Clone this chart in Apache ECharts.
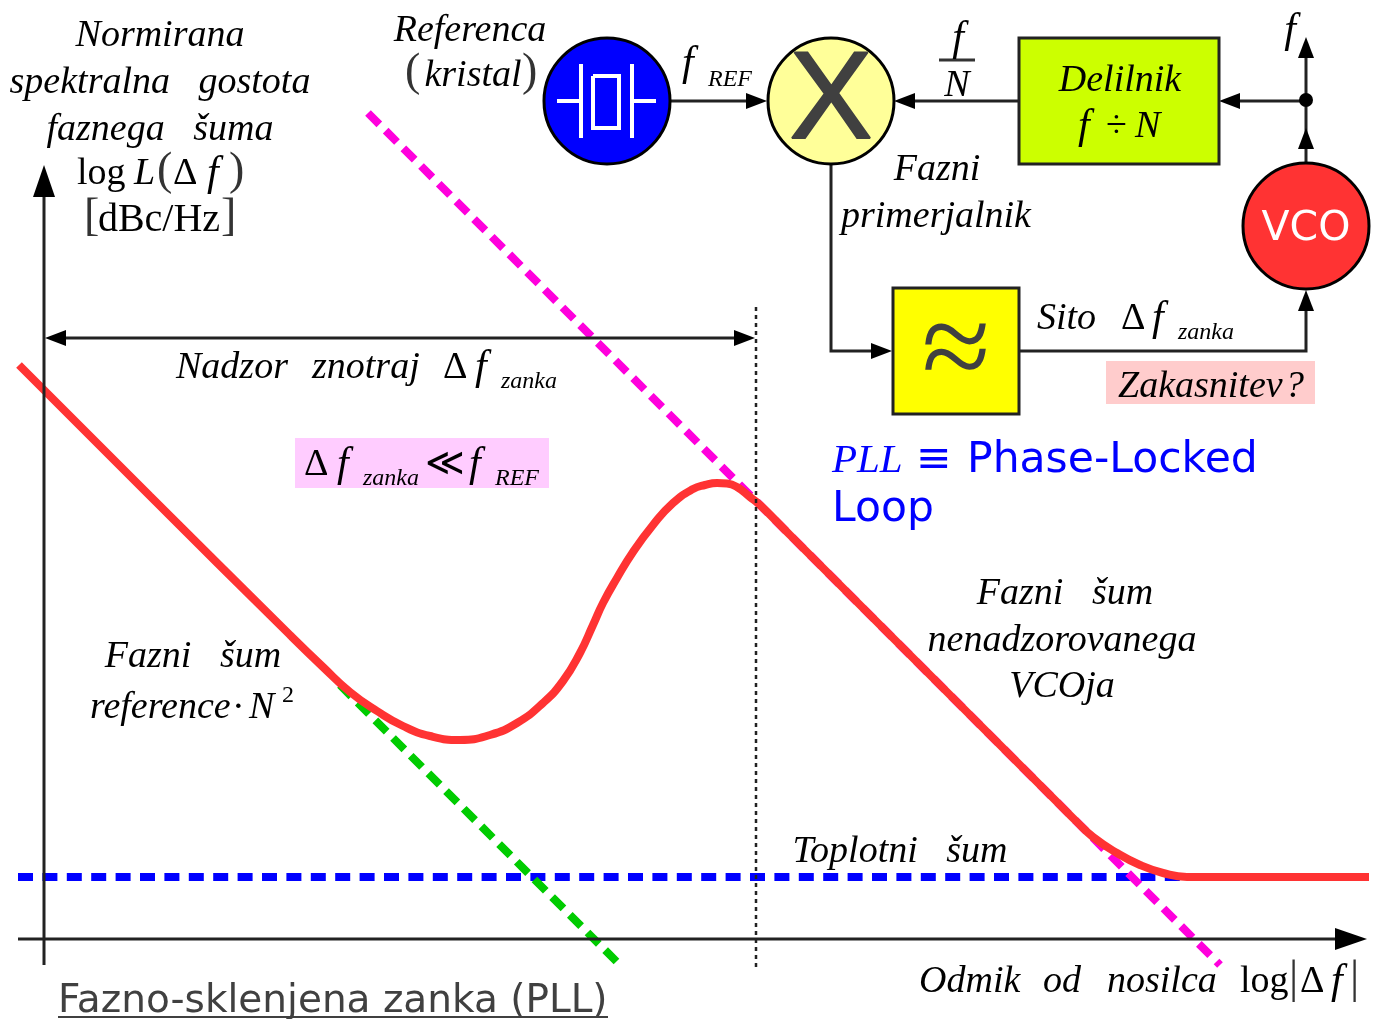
<!DOCTYPE html>
<html>
<head>
<meta charset="utf-8">
<title>PLL</title>
<style>html,body{margin:0;padding:0;background:#fff}#main{width:1380px;height:1019px}</style>
<script src="https://cdn.jsdelivr.net/npm/echarts@6/dist/echarts.min.js"></script>
</head>
<body>
<div id="main"></div>
<script>
// noise curves (x = offset, y = level, both in picture units)
var totalNoise = [[19,365],[150,496],[290,635],[323,667],[350,692],[377,711],[403,726],[430,736],[460,740],[490,735],[517,723],[543,703],[563,681],[580,653],[593,625],[603,603],[617,578],[633,552],[653,525],[673,503],[693,489],[705,485],[717,483],[727,483.5],[737,487],[750,497],[760,505],[790,535],[900,645],[1034,779],[1057,802],[1077,822],[1093,837],[1117,853],[1140,865],[1163,873],[1187,877],[1230,877],[1369,877]];
var vcoNoise = [[368,113],[1220,965]];
var refNoise = [[340,685],[620,965]];
var thermalNoise = [[18,877],[1369,877]];

// diagram nodes and wires
var circleNodes = [[607,101,63],[831,101,63],[1306,226,63]];
var circleFills = ['#0000ff','#ffff99','#ff3333'];
var boxNodes = [[1019,38,1219,164],[893,288,1019,414]];
var boxFills = ['#ccff00','#ffff00'];
var noteBoxes = [[1106,361,1315,404],[295,438,549,488]];
var noteFills = ['#ffcccc','#ffccff'];
var wires = [
    [[669,101],[750,101]],
    [[1019,101],[910,101]],
    [[1306,101],[1235,101]],
    [[1306,163],[1306,50]],
    [[831,164],[831,351],[875,351]],
    [[1019,351],[1306,351],[1306,305]],
    [[50,338],[750,338]],
    [[44,965],[44,190]],
    [[18,939],[1340,939]],
    [[939,60],[975,60]],
    [[58,1017],[608,1017]]
];
var crystalLines = [
    [[557,101],[580,101]],[[581,64],[581,138]],[[632,64],[632,138]],[[633,101],[656,101]],
    [[593,76],[619,76],[619,128],[593,128],[593,76]]
];
var cutoffLine = [[756,307],[756,967]];
var arrowTips = [[767,101,'r'],[894,101,'l'],[1219,101,'l'],[1306,37,'u'],[1306,128,'u'],[892,351,'r'],[1306,290,'u'],[45,338,'l'],[755,338,'r']];
var axisTips = [[44,165,'u'],[1367,939,'r']];
var junctions = [[1306,100]];

// text: [x, y, string, font key, align]
var labels = [
    [160,36,'Normirana','it',  'center'],
    [160,83,'spektralna   gostota','it','center'],
    [160,130,'faznega   šuma','it','center'],
    [77,174,'log','rm','left'],[134,174,'L','it','left'],[157,172,'(','par','left'],[173,174,'Δ','rm','left'],[207,174,'f','itF','left'],[229,172,')','par','left'],
    [84,218,'[','par','left'],[159,220,'dBc/Hz','rmBig','center'],[221,218,']','par','left'],
    [470,31,'Referenca','it','center'],
    [405,73,'(','par','left'],[473,76,'kristal','it','center'],[522,73,')','par','left'],
    [682,64,'f','itF','left'],[708,80,'REF','sub','left'],
    [958,39,'f','itF','center'],[957,86,'N','it','center'],
    [1290,31,'f','itF','center'],
    [1120,81,'Delilnik','it','center'],
    [1078,127,'f','itF','left'],[1106,127,'÷','rm','left'],[1135,127,'N','it','left'],
    [937,170,'Fazni','it','center'],
    [936,217,'primerjalnik','it','center'],
    [1037,319,'Sito','it','left'],[1121,319,'Δ','rm','left'],[1152,319,'f','itF','left'],[1178,333,'zanka','sub','left'],
    [1118,387,'Zakasnitev','it','left'],[1285,387,'?','it','left'],
    [832,461,'PLL','it2','left'],[916,461,'≡','sansBlue','left'],[967,461,'Phase-Locked','sansBlue','left'],
    [832,510,'Loop','sansBlue','left'],
    [176,368,'Nadzor','it','left'],[312,368,'znotraj','it','left'],[443,368,'Δ','rm','left'],[475,368,'f','itF','left'],[501,382,'zanka','sub','left'],
    [304,465,'Δ','rm','left'],[337,465,'f','itF','left'],[363,479,'zanka','sub','left'],[425,465,'≪','rm','left'],[469,465,'f','itF','left'],[495,479,'REF','sub','left'],
    [193,657,'Fazni   šum','it','center'],
    [90,708,'reference','it','left'],[232,708,'·','rm','left'],[249,708,'N','it','left'],[282,696,'2','subRm','left'],
    [1065,594,'Fazni   šum','it','center'],
    [1062,641,'nenadzorovanega','it','center'],
    [1062,687,'VCOja','it','center'],
    [900,852,'Toplotni   šum','it','center'],
    [919,982,'Odmik','it','left'],[1043,982,'od','it','left'],[1107,982,'nosilca','it','left'],
    [1240,982,'log','rm','left'],[1289,980,'|','par','left'],[1300,982,'Δ','rm','left'],[1331,982,'f','itF','left'],[1350,980,'|','par','left'],
    [58,1002,'Fazno-sklenjena zanka (PLL)','title','left'],
    [1306,229,'VCO','vco','center'],
    [831,103.5,'X','cross','center'],
    [956,355,'≈','approx','center']
];

var fonts = {
    it: {font:'italic 38px "Liberation Serif"', fill:'#000'},
    itF: {font:'italic 42px "Liberation Serif"', fill:'#000'},
    it2: {font:'italic 41px "Liberation Serif"', fill:'#0000ff'},
    rm: {font:'38px "Liberation Serif"', fill:'#000'},
    rmBig: {font:'40px "Liberation Serif"', fill:'#000'},
    par: {font:'300 46px "Liberation Serif"', fill:'#333'},
    sub: {font:'italic 24px "Liberation Serif"', fill:'#000'},
    subRm: {font:'24px "Liberation Serif"', fill:'#000'},
    sansBlue: {font:'42.5px "DejaVu Sans"', fill:'#0000ff'},
    title: {font:'39px "DejaVu Sans"', fill:'#404040'},
    vco: {font:'41px "DejaVu Sans"', fill:'#fff'},
    cross: {font:'125px "Liberation Sans"', fill:'#404040', stroke:'#404040', lineWidth:2},
    approx: {font:'125px "Liberation Serif"', fill:'#404040'}
};

var myChart = echarts.init(document.getElementById('main'));

function polyChild(api, pts, stroke, width) {
    return {
        type: 'polyline',
        shape: {points: pts.map(function (p) { return api.coord(p); })},
        style: {stroke: stroke, lineWidth: width, fill: null}
    };
}

function rectChild(api, b, fill, stroke) {
    var a = api.coord([b[0], b[1]]), c = api.coord([b[2], b[3]]);
    return {
        type: 'rect',
        shape: {x: a[0], y: a[1], width: c[0] - a[0], height: c[1] - a[1]},
        style: {fill: fill, stroke: stroke, lineWidth: stroke ? 3 : 0}
    };
}

function headChild(api, t, len, half) {
    var d = {r: [1, 0], l: [-1, 0], u: [0, -1], d: [0, 1]}[t[2]];
    var p = api.coord([t[0], t[1]]);
    return {
        type: 'polygon',
        shape: {points: [p,
            [p[0] - d[0] * len - d[1] * half, p[1] - d[1] * len - d[0] * half],
            [p[0] - d[0] * len + d[1] * half, p[1] - d[1] * len + d[0] * half]]},
        style: {fill: '#000'}
    };
}

// one custom series that just draws one thing per data row
function drawSeries(rows, z, draw) {
    return {
        type: 'custom', coordinateSystem: 'cartesian2d', silent: true, clip: false, z: z,
        data: rows.map(function (r, i) { return [i]; }),
        encode: {x: 0, y: 0},
        renderItem: function (params, api) { return draw(rows[params.dataIndex], params.dataIndex, api); }
    };
}

function noiseSeries(name, data, color, dash, z) {
    return {
        name: name, type: 'line', data: data, showSymbol: false, silent: true, z: z,
        lineStyle: {color: color, width: 8, type: dash, cap: 'butt'}
    };
}

var totalLine = noiseSeries('total', totalNoise, '#ff3333', 'solid', 6);
totalLine.smooth = 0.5;
totalLine.smoothConstraint = false;

var option = {
    animation: false,
    backgroundColor: '#fff',
    grid: {left: 0, right: 0, top: 0, bottom: 0},
    xAxis: {type: 'value', min: 0, max: 1380, show: false},
    yAxis: {type: 'value', min: 0, max: 1019, inverse: true, show: false},
    series: [
        drawSeries(noteBoxes, 1, function (b, i, api) { return rectChild(api, b, noteFills[i], null); }),
        noiseSeries('thermal', thermalNoise, '#0000ff', [15, 9.4], 3),
        noiseSeries('ref', refNoise, '#00cc00', [16, 9], 4),
        noiseSeries('vco', vcoNoise, '#ff00dd', [16, 9], 5),
        totalLine,
        drawSeries(wires, 7, function (w, i, api) {
            return polyChild(api, w, i === 10 ? '#404040' : (i === 9 ? '#333' : '#222'), i === 10 ? 2 : 3);
        }),
        {
            type: 'line', data: cutoffLine, showSymbol: false, silent: true, z: 7,
            lineStyle: {color: '#222', width: 2.5, type: [4, 4]}
        },
        drawSeries(arrowTips, 8, function (t, i, api) { return headChild(api, t, 21, 8); }),
        drawSeries(axisTips, 8, function (t, i, api) { return headChild(api, t, 32, 11); }),
        drawSeries(junctions, 8, function (j, i, api) {
            var p = api.coord(j);
            return {type: 'circle', shape: {cx: p[0], cy: p[1], r: 7}, style: {fill: '#000'}};
        }),
        drawSeries(boxNodes, 9, function (b, i, api) { return rectChild(api, b, boxFills[i], '#222'); }),
        drawSeries(circleNodes, 9, function (c, i, api) {
            var p = api.coord(c);
            return {type: 'circle', shape: {cx: p[0], cy: p[1], r: api.size([c[2], 0])[0]},
                style: {fill: circleFills[i], stroke: '#000', lineWidth: 3}};
        }),
        drawSeries(crystalLines, 10, function (w, i, api) { return polyChild(api, w, '#fff', 4); }),
        drawSeries(labels, 11, function (l, i, api) {
            var p = api.coord(l), f = fonts[l[3]];
            return {
                type: 'text',
                style: {x: p[0], y: p[1], text: l[2], font: f.font, fill: f.fill, stroke: f.stroke, lineWidth: f.lineWidth,
                    align: l[4], verticalAlign: 'middle'}
            };
        })
    ]
};

myChart.setOption(option);
</script>
</body>
</html>
